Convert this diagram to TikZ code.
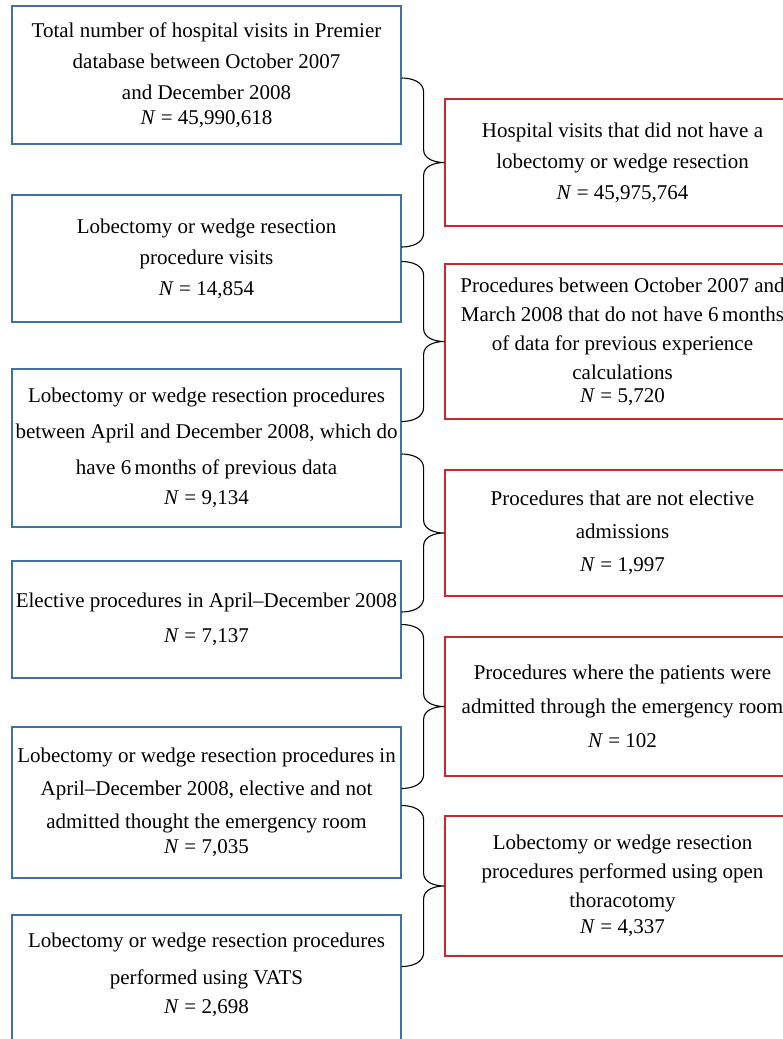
\documentclass[tikz,border=0pt]{standalone}
\usepackage{fontspec}
\setmainfont{Liberation Serif}
\usetikzlibrary{calc}
\definecolor{bordoblu}{RGB}{65,113,156}
\definecolor{bordorosso}{RGB}{200,40,48}

\begin{document}
\begin{tikzpicture}[x=1pt, y=-1pt,
  lbox/.style={draw=bordoblu, line width=1.2pt, minimum width=389pt, inner sep=0pt,
    align=center, font=\fontsize{21}{31}\selectfont},
  rbox/.style={draw=bordorosso, line width=1.2pt, minimum width=355pt, inner sep=0pt,
    align=center, font=\fontsize{21}{31}\selectfont},
  graffa/.style={line width=1.1pt, black}]

% Area del disegno
\useasboundingbox (0,0) rectangle (783,1039);
\clip (0,0) rectangle (783,1039);

% Riquadri a sinistra (blu)
\node[lbox, minimum height=138pt] (L1) at (206.5,75)
  {Total number of hospital visits in Premier\\ database between October 2007\\
   and December 2008\\[-6pt] \textit{N} = 45,990,618};
\node[lbox, minimum height=127pt] (L2) at (206.5,258.5)
  {Lobectomy or wedge resection\\ procedure visits\\ \textit{N} = 14,854};
\node[lbox, minimum height=158pt, font=\fontsize{21}{36}\selectfont] (L3) at (206.5,448)
  {Lobectomy or wedge resection procedures\\ between April and December 2008, which do\\
   have 6\,months of previous data\\[-6pt] \textit{N} = 9,134};
\node[lbox, minimum height=117pt, font=\fontsize{21}{35}\selectfont] (L4) at (206.5,619.5)
  {Elective procedures in April--December 2008\\ \textit{N} = 7,137};
\node[lbox, minimum height=151pt, font=\fontsize{21}{33}\selectfont] (L5) at (206.5,802.5)
  {Lobectomy or wedge resection procedures in\\ April--December 2008, elective and not\\
   admitted thought the emergency room\\[-8pt] \textit{N} = 7,035};
\node[lbox, minimum height=140pt, font=\fontsize{21}{37}\selectfont] (L6) at (206.5,985)
  {Lobectomy or wedge resection procedures\\ performed using VATS\\[-8pt]
   \textit{N} = 2,698\\[-14pt]\mbox{}};

% Riquadri a destra (rossi)
\node[rbox, minimum height=127pt] (R1) at (622.5,162.5)
  {Hospital visits that did not have a\\ lobectomy or wedge resection\\ \textit{N} = 45,975,764};
\node[rbox, minimum height=155pt, font=\fontsize{21}{29}\selectfont] (R2) at (622.5,341.5)
  {Procedures between October 2007 and\\ March 2008 that do not have 6\,months\\
   of data for previous experience\\ calculations\\[-6pt] \textit{N} = 5,720};
\node[rbox, minimum height=126pt, font=\fontsize{21}{33}\selectfont] (R3) at (622.5,533)
  {Procedures that are not elective\\ admissions\\ \textit{N} = 1,997};
\node[rbox, minimum height=139pt, font=\fontsize{21}{34}\selectfont] (R4) at (622.5,706.5)
  {Procedures where the patients were\\ admitted through the emergency room\\ \textit{N} = 102};
\node[rbox, minimum height=140pt, font=\fontsize{21}{29}\selectfont] (R5) at (622.5,886)
  {Lobectomy or wedge resection\\ procedures performed using open\\
   thoracotomy\\[-3pt] \textit{N} = 4,337};

% Graffe tra i riquadri
\draw[graffa] let \p1=(L1.east), \p2=(R1.west) in
  (\x1,\y1-3) to[out=0,in=90] (\x1+22,\y1-17) -- (\x1+22,\y2+13)
  to[out=-90,in=180] (\x2,\y2) to[out=180,in=90] (\x1+22,\y2-13)
  -- (\x1+22,2*\y2-\y1+17) to[out=-90,in=0] (\x1,2*\y2-\y1+3);
\draw[graffa] let \p1=(L2.east), \p2=(R2.west) in
  (\x1,\y1-3) to[out=0,in=90] (\x1+22,\y1-17) -- (\x1+22,\y2+13)
  to[out=-90,in=180] (\x2,\y2) to[out=180,in=90] (\x1+22,\y2-13)
  -- (\x1+22,2*\y2-\y1+17) to[out=-90,in=0] (\x1,2*\y2-\y1+3);
\draw[graffa] let \p1=(L3.east), \p2=(R3.west) in
  (\x1,\y1-6) to[out=0,in=90] (\x1+22,\y1-20) -- (\x1+22,\y2+13)
  to[out=-90,in=180] (\x2,\y2) to[out=180,in=90] (\x1+22,\y2-13)
  -- (\x1+22,2*\y2-\y1+20) to[out=-90,in=0] (\x1,2*\y2-\y1+6);
\draw[graffa] let \p1=(L4.east), \p2=(R4.west) in
  (\x1,\y1-5) to[out=0,in=90] (\x1+22,\y1-19) -- (\x1+22,\y2+13)
  to[out=-90,in=180] (\x2,\y2) to[out=180,in=90] (\x1+22,\y2-13)
  -- (\x1+22,2*\y2-\y1+19) to[out=-90,in=0] (\x1,2*\y2-\y1+5);
\draw[graffa] let \p1=(L5.east), \p2=(R5.west) in
  (\x1,\y1-3) to[out=0,in=90] (\x1+22,\y1-17) -- (\x1+22,\y2+13)
  to[out=-90,in=180] (\x2,\y2) to[out=180,in=90] (\x1+22,\y2-13)
  -- (\x1+22,2*\y2-\y1+17) to[out=-90,in=0] (\x1,2*\y2-\y1+3);

\end{tikzpicture}
\end{document}
